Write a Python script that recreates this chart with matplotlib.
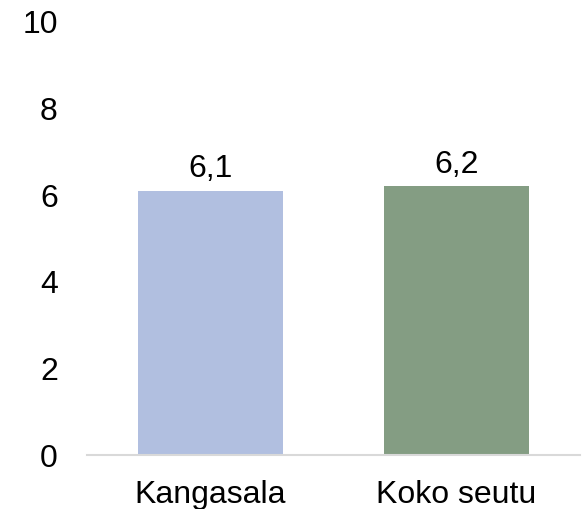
import matplotlib
matplotlib.use("Agg")
import matplotlib.pyplot as plt

categories = ["Kangasala", "Koko seutu"]
values = [6.1, 6.2]
value_labels = ["6,1", "6,2"]
bar_colors = ["#B1BFE0", "#849D83"]
y_ticks = [0, 2, 4, 6, 8, 10]

plt.rcParams["font.family"] = ["Liberation Sans", "DejaVu Sans"]

fig = plt.figure(figsize=(5.88, 5.09), dpi=100)
ax = fig.add_axes([0.148, 0.106, 0.838, 0.851])

x = range(len(categories))
bars = ax.bar(x, values, width=0.59, color=bar_colors, zorder=2)

for rect, lab in zip(bars, value_labels):
    ax.annotate(lab, (rect.get_x() + rect.get_width() / 2, rect.get_height()),
                xytext=(0, 5), textcoords="offset points",
                ha="center", va="bottom", fontsize=23, color="#000000")

ax.set_xlim(-0.5, 1.5)
ax.set_ylim(0, 10)
ax.set_yticks(y_ticks)
ax.set_yticklabels([str(t) for t in y_ticks])
ax.set_xticks(list(x))
ax.set_xticklabels(categories)

ax.tick_params(axis="y", length=0, pad=21, labelsize=23)
ax.tick_params(axis="x", length=0, pad=18, labelsize=23)

for side in ["left", "right", "top"]:
    ax.spines[side].set_visible(False)
ax.spines["bottom"].set_color("#D9D9D9")
ax.spines["bottom"].set_linewidth(1.5)
ax.spines["bottom"].set_zorder(3)

fig.savefig("out.png", dpi=100)
